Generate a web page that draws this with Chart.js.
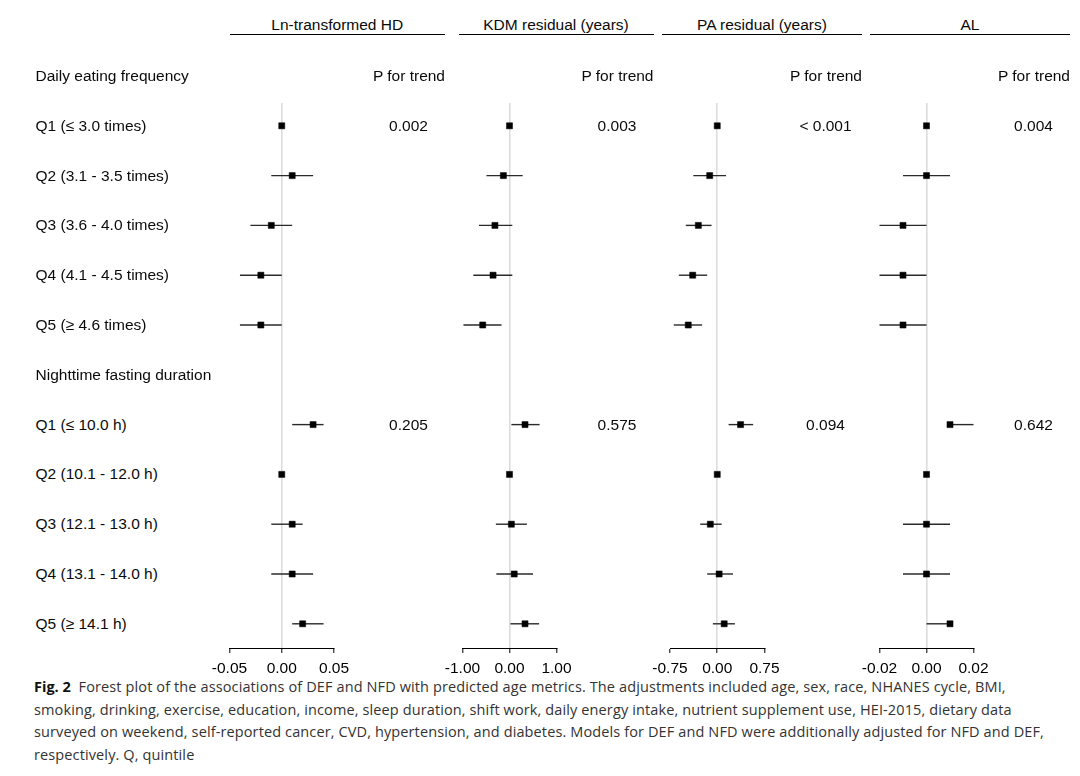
<!DOCTYPE html>
<html>
<head>
<meta charset="utf-8">
<script src="https://cdn.jsdelivr.net/npm/chart.js@4.4.0/dist/chart.umd.min.js"></script>
<style>
  html, body { margin: 0; padding: 0; background: #fff; }
  body { width: 1080px; height: 776px; position: relative; overflow: hidden;
         font-family: "Liberation Sans", Arial, Helvetica, sans-serif; font-size: 15.5px; color: #0a0a0a; }
  .abs { position: absolute; white-space: nowrap; line-height: 20px; }
  .title { position: absolute; top: 15px; height: 19px; border-bottom: 1px solid #000;
           text-align: center; line-height: 20px; }
  canvas { position: absolute; }
  #caption { position: absolute; left: 34px; top: 676px; font-family: "Open Sans", "Noto Sans", sans-serif;
             font-size: 14.5px; letter-spacing: 0.12px; line-height: 22.5px; color: #333; white-space: nowrap; }
  #caption b { color: #111; letter-spacing: 0; }
</style>
</head>
<body>
<div id="caption">
  <div><b>Fig. 2</b>&nbsp; Forest plot of the associations of DEF and NFD with predicted age metrics. The adjustments included age, sex, race, NHANES cycle, BMI,</div>
  <div>smoking, drinking, exercise, education, income, sleep duration, shift work, daily energy intake, nutrient supplement use, HEI-2015, dietary data</div>
  <div>surveyed on weekend, self-reported cancer, CVD, hypertension, and diabetes. Models for DEF and NFD were additionally adjusted for NFD and DEF,</div>
  <div>respectively. Q, quintile</div>
</div>
<script>
(function () { // keep everything out of global scope
    // rows, top to bottom (index 0 and 6 are group headings)
    const rowLabels = [
        'Daily eating frequency',
        'Q1 (≤ 3.0 times)',
        'Q2 (3.1 - 3.5 times)',
        'Q3 (3.6 - 4.0 times)',
        'Q4 (4.1 - 4.5 times)',
        'Q5 (≥ 4.6 times)',
        'Nighttime fasting duration',
        'Q1 (≤ 10.0 h)',
        'Q2 (10.1 - 12.0 h)',
        'Q3 (12.1 - 13.0 h)',
        'Q4 (13.1 - 14.0 h)',
        'Q5 (≥ 14.1 h)',
    ];
    const headerRows = [0, 6];
    const firstQuintileRows = [1, 7];

    const panelTitles = ['Ln-transformed HD', 'KDM residual (years)', 'PA residual (years)', 'AL'];

    // point estimates and 95% CI (null = heading row / reference group)
    const hdEst = [null, 0, 0.01, -0.01, -0.02, -0.02, null, 0.03, 0, 0.01, 0.01, 0.02];
    const hdLow = [null, null, -0.01, -0.03, -0.04, -0.04, null, 0.01, null, -0.01, -0.01, 0.01];
    const hdHigh = [null, null, 0.03, 0.01, 0.00, 0.00, null, 0.04, null, 0.02, 0.03, 0.04];

    const kdmEst = [null, 0, -0.13, -0.31, -0.35, -0.57, null, 0.33, 0, 0.04, 0.10, 0.33];
    const kdmLow = [null, null, -0.49, -0.65, -0.77, -0.98, null, 0.04, null, -0.29, -0.28, 0.02];
    const kdmHigh = [null, null, 0.28, 0.06, 0.06, -0.17, null, 0.64, null, 0.37, 0.50, 0.63];

    const paEst = [null, 0, -0.12, -0.30, -0.39, -0.46, null, 0.37, 0, -0.11, 0.03, 0.11];
    const paLow = [null, null, -0.38, -0.50, -0.61, -0.69, null, 0.18, null, -0.27, -0.16, -0.07];
    const paHigh = [null, null, 0.14, -0.09, -0.16, -0.24, null, 0.57, null, 0.07, 0.25, 0.28];

    const alEst = [null, 0, 0, -0.01, -0.01, -0.01, null, 0.01, 0, 0, 0, 0.01];
    const alLow = [null, null, -0.01, -0.02, -0.02, -0.02, null, 0.01, null, -0.01, -0.01, 0.00];
    const alHigh = [null, null, 0.01, 0.00, 0.00, 0.00, null, 0.02, null, 0.01, 0.01, 0.01];

    // P for trend: DEF, NFD
    const pTrendDEF = ['0.002', '0.003', '< 0.001', '0.004'];
    const pTrendNFD = ['0.205', '0.575', '0.094', '0.642'];

    // x axis ticks per panel
    const hdTicks = [-0.05, 0, 0.05];
    const kdmTicks = [-1, 0, 1];
    const paTicks = [-0.75, 0, 0.75];
    const alTicks = [-0.02, 0, 0.02];

    // page layout: column span (title underline) and plot axis span in px
    const panels = [
        {est: hdEst, low: hdLow, high: hdHigh, ticks: hdTicks, col: [229.5, 445], axis: [229.5, 334]},
        {est: kdmEst, low: kdmLow, high: kdmHigh, ticks: kdmTicks, col: [458.5, 653.5], axis: [462.5, 556.5]},
        {est: paEst, low: paLow, high: paHigh, ticks: paTicks, col: [662, 862], axis: [670, 764.5]},
        {est: alEst, low: alLow, high: alHigh, ticks: alTicks, col: [870, 1070], axis: [879.5, 973.5]},
    ];

    const canvasTop = 83;
    const plotTop = 103, plotBottom = 648;
    const rowStep = 49.8, headerY = 76;
    const yMin = (plotTop - headerY) / rowStep;
    const yMax = (plotBottom - headerY) / rowStep;
    const pad = 40;
    const tickFont = {family: "'Liberation Sans', Arial, sans-serif", size: 15.5};

    function addText(text, left, top, extra) {
        const el = document.createElement('div');
        el.className = 'abs';
        el.textContent = text;
        el.style.left = left + 'px';
        el.style.top = top + 'px';
        if (extra) Object.assign(el.style, extra);
        document.body.appendChild(el);
        return el;
    }

    let yScale = null;

    panels.forEach(function (p, k) {
        // column heading with underline
        const t = document.createElement('div');
        t.className = 'title';
        t.textContent = panelTitles[k];
        t.style.left = p.col[0] + 'px';
        t.style.width = (p.col[1] - p.col[0]) + 'px';
        document.body.appendChild(t);

        const cv = document.createElement('canvas');
        const left = Math.floor(p.axis[0] - pad);
        const width = Math.ceil(p.axis[1] + pad) - left;
        cv.width = width;
        cv.height = 600;
        cv.style.left = left + 'px';
        cv.style.top = canvasTop + 'px';
        document.body.appendChild(cv);

        const datasets = [];
        p.est.forEach(function (v, i) {
            if (p.low[i] === null) return;
            datasets.push({
                data: [{x: p.low[i], y: i}, {x: p.high[i], y: i}],
                showLine: true,
                borderColor: '#2a2a2a',
                borderWidth: 1.4,
                pointRadius: 0,
                order: 2,
            });
        });
        datasets.push({
            data: p.est.map((v, i) => v === null ? null : {x: v, y: i}).filter(d => d),
            pointStyle: 'rect',
            pointRadius: 4.3,
            backgroundColor: '#000',
            borderColor: '#000',
            borderWidth: 0.5,
            order: 1,
        });

        const chart = new Chart(cv, {
            type: 'scatter',
            data: {datasets: datasets},
            options: {
                responsive: false,
                animation: false,
                events: [],
                clip: false,
                layout: {
                    padding: {
                        left: p.axis[0] - left,
                        right: left + width - p.axis[1],
                        top: plotTop - canvasTop,
                        bottom: 600 - (plotBottom - canvasTop) - 30,
                    },
                },
                plugins: {legend: {display: false}, tooltip: {enabled: false}},
                scales: {
                    x: {
                        type: 'linear',
                        min: p.ticks[0],
                        max: p.ticks[p.ticks.length - 1],
                        afterBuildTicks: s => { s.ticks = p.ticks.map(v => ({value: v})); },
                        afterFit: s => { s.height = 30; },
                        ticks: {
                            callback: v => v.toFixed(2),
                            color: '#000',
                            font: tickFont,
                            padding: 6,
                            maxRotation: 0,
                            autoSkip: false,
                        },
                        grid: {
                            color: c => (c.tick && c.tick.value === 0) ? '#dcdcdc' : 'rgba(0,0,0,0)',
                            lineWidth: 1.6,
                            tickColor: '#000',
                            tickWidth: 1,
                            tickLength: 5,
                        },
                        border: {display: true, color: '#000', width: 1},
                    },
                    y: {
                        type: 'linear',
                        reverse: true,
                        min: yMin,
                        max: yMax,
                        display: false,
                    },
                },
            },
        });
        if (!yScale) yScale = chart.scales.y;

        // P for trend column, centred under its heading
        const pRight = p.col[1];
        const rowY = i => canvasTop + chart.scales.y.getPixelForValue(i) - 10;
        addText('P for trend', 0, rowY(headerRows[0]), {left: 'auto', right: (1080 - pRight) + 'px'});
        [pTrendDEF[k], pTrendNFD[k]].forEach(function (txt, j) {
            addText(txt, 0, rowY(firstQuintileRows[j]),
                {left: 'auto', right: (1080 - pRight) + 'px', width: '73px', textAlign: 'center'});
        });
    });

    // row labels on the left
    rowLabels.forEach(function (label, i) {
        addText(label, 35.5, canvasTop + yScale.getPixelForValue(i) - 10);
    });
})();
</script>
</body>
</html>
